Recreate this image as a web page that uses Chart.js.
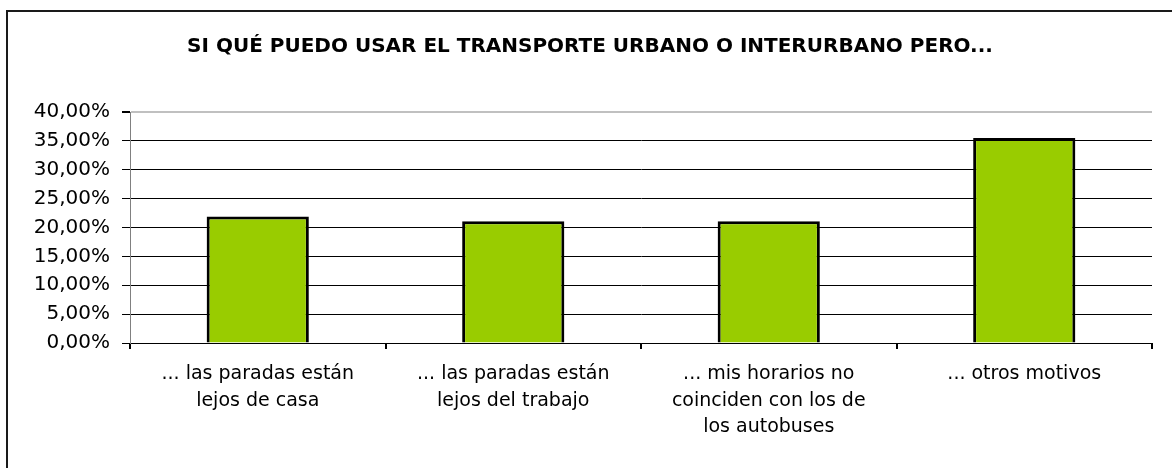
<!DOCTYPE html>
<html>
<head>
<meta charset="utf-8">
<title>Transporte urbano</title>
<script src="https://cdn.jsdelivr.net/npm/chart.js@4/dist/chart.umd.min.js"></script>
<style>
  html, body { margin: 0; padding: 0; background: #fff; overflow: hidden; }
  #wrap { position: relative; width: 1172px; height: 468px; }
  #frame { position: absolute; left: 6px; top: 10px; width: 1200px; height: 500px;
           border: 2px solid #1a1a1a; box-sizing: border-box; }
  canvas { position: absolute; left: 0; top: 0; }
</style>
</head>
<body>
<div id="wrap">
  <div id="frame"></div>
  <canvas id="myChart" width="1172" height="468"></canvas>
</div>
<script>
// datos
const chartTitle = 'SI QUÉ PUEDO USAR EL TRANSPORTE URBANO O INTERURBANO PERO...';
const categorias = [
    ['... las paradas están', 'lejos de casa'],
    ['... las paradas están', 'lejos del trabajo'],
    ['... mis horarios no', 'coinciden con los de', 'los autobuses'],
    ['... otros motivos']
];
const porcentajes = [21.9, 21.1, 21.1, 35.5];
const yTicks = [0, 5, 10, 15, 20, 25, 30, 35, 40];

const fontName = '"DejaVu Sans", sans-serif';

const ctx = document.getElementById('myChart').getContext('2d');
new Chart(ctx, {
    type: 'bar',
    data: {
        labels: categorias,
        datasets: [{
            data: porcentajes,
            backgroundColor: '#99cc00',
            borderColor: '#000',
            borderWidth: 3,
            barPercentage: 0.4,
            categoryPercentage: 1
        }]
    },
    options: {
        responsive: false,
        animation: false,
        // padding izquierdo para centrar el titulo como en el original
        layout: { padding: { left: 28, right: 20, top: 0, bottom: 0 } },
        plugins: {
            legend: { display: false },
            tooltip: { enabled: false },
            title: {
                display: true,
                text: chartTitle,
                color: '#000',
                font: { family: fontName, size: 20, weight: 'bold', lineHeight: 1.2 },
                padding: { top: 35, bottom: 53 }
            }
        },
        scales: {
            x: {
                offset: true,
                border: { color: '#000', width: 1 },
                grid: {
                    drawOnChartArea: true,
                    color: (c) => c.index === categorias.length ? '#c0c0c0' : 'rgba(0,0,0,0)',
                    tickColor: '#000',
                    tickLength: 6,
                    lineWidth: 2
                },
                ticks: {
                    color: '#000',
                    padding: 12,
                    maxRotation: 0,
                    autoSkip: false,
                    font: { family: fontName, size: 19, lineHeight: 1.4 }
                },
                afterFit: (s) => { s.height = 125; }
            },
            y: {
                min: 0,
                max: 40,
                border: { color: '#808080', width: 1 },
                grid: {
                    color: (c) => c.tick && c.tick.value === 40 ? '#c0c0c0' : '#000',
                    lineWidth: (c) => c.tick && c.tick.value === 40 ? 2 : 1,
                    tickColor: '#000',
                    tickLength: 8
                },
                afterBuildTicks: (s) => { s.ticks = yTicks.map(v => ({ value: v })); },
                ticks: {
                    color: '#000',
                    padding: 12,
                    font: { family: fontName, size: 20 },
                    callback: (v) => v.toFixed(2).replace('.', ',') + '%'
                },
                afterFit: (s) => { s.width = 102; }
            }
        }
    }
});
</script>
</body>
</html>
